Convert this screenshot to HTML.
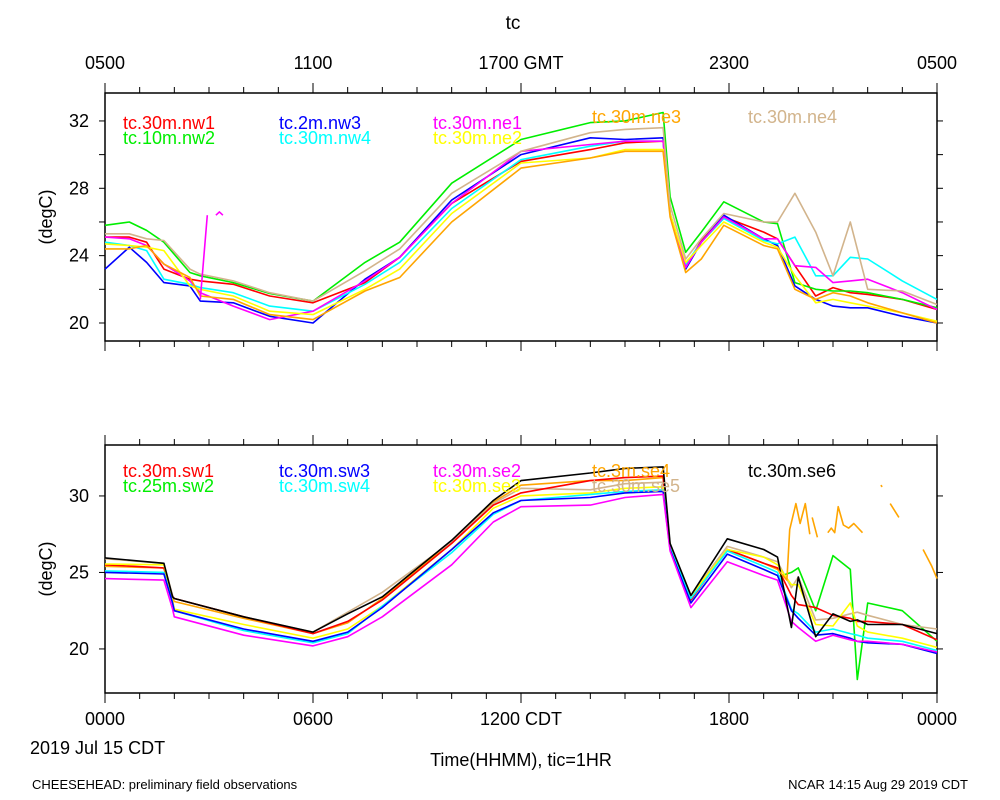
<!DOCTYPE html>
<html><head><meta charset="utf-8"><style>
body{margin:0;background:#fff;}
svg{display:block;font-family:"Liberation Sans",sans-serif;}
</style></head><body>
<svg id="chart" width="1000" height="800" viewBox="0 0 1000 800" xmlns="http://www.w3.org/2000/svg">
<text x="513" y="29" font-size="19" text-anchor="middle">tc</text>
<text x="105" y="69" font-size="18" text-anchor="middle">0500</text>
<text x="313" y="69" font-size="18" text-anchor="middle">1100</text>
<text x="521" y="69" font-size="18" text-anchor="middle">1700 GMT</text>
<text x="729" y="69" font-size="18" text-anchor="middle">2300</text>
<text x="937" y="69" font-size="18" text-anchor="middle">0500</text>
<text x="105" y="725" font-size="18" text-anchor="middle">0000</text>
<text x="313" y="725" font-size="18" text-anchor="middle">0600</text>
<text x="521" y="725" font-size="18" text-anchor="middle">1200 CDT</text>
<text x="729" y="725" font-size="18" text-anchor="middle">1800</text>
<text x="937" y="725" font-size="18" text-anchor="middle">0000</text>
<text x="30" y="754" font-size="18">2019 Jul 15 CDT</text>
<text x="521" y="766" font-size="18" text-anchor="middle">Time(HHMM), tic=1HR</text>
<text x="32" y="789" font-size="13">CHEESEHEAD: preliminary field observations</text>
<text x="968" y="789" font-size="13" text-anchor="end">NCAR 14:15 Aug 29 2019 CDT</text>
<text transform="translate(52,217) rotate(-90)" font-size="18" text-anchor="middle">(degC)</text>
<text transform="translate(52,569) rotate(-90)" font-size="18" text-anchor="middle">(degC)</text>
</svg>
<script>
const NS='http://www.w3.org/2000/svg';
const svg=document.getElementById('chart');
// ---------- top panel data ----------
const topTimes=[0,0.7,1.2,1.7,2.45,2.75,3.7,4.75,6,7.5,8.5,10,12,14,15,16.1,16.3,16.75,17.2,17.85,19,19.4,19.9,20.5,21,21.5,22,23,24];
const nw1=[25.1,25.1,24.8,23.2,22.6,22.5,22.3,21.6,21.2,22.4,23.9,27.1,29.6,30.3,30.7,30.8,26.5,23.3,24.9,26.3,25.4,25.0,23.4,21.6,22.1,21.8,21.7,21.4,20.8];
const nw2=[25.8,26.0,25.5,24.8,23.0,22.8,22.4,21.75,21.3,23.6,24.8,28.3,30.9,31.9,32.0,32.5,27.5,24.2,25.4,27.2,26.0,25.9,22.4,22.0,21.9,21.9,21.8,21.4,20.9];
const nw3=[23.2,24.5,23.6,22.4,22.2,21.3,21.2,20.4,20.0,22.6,23.9,27.3,30.0,31.0,30.9,31.0,26.5,23.2,24.8,26.4,25.0,24.6,22.2,21.4,21.0,20.9,20.9,20.4,20.0];
const nw4=[24.8,24.6,24.3,22.6,22.3,22.1,21.8,21.0,20.7,22.3,23.6,26.8,29.7,30.5,30.8,30.8,26.5,23.5,24.8,26.2,24.9,24.7,25.1,22.8,22.8,23.9,23.8,22.5,21.4];
const ne1=[25.1,25.0,24.6,23.5,22.5,21.8,21.0,20.2,20.7,22.5,23.9,27.1,30.2,30.6,30.8,30.8,26.5,23.3,24.8,26.3,25.0,25.0,23.4,23.3,22.4,22.5,22.6,21.8,20.8];
const ne2=[24.7,24.6,24.5,24.3,22.2,22.0,21.6,20.7,20.5,22.0,23.2,26.5,29.5,29.8,30.3,30.3,26.5,23.6,24.6,26.0,24.8,24.5,22.8,21.2,21.4,21.2,21.0,20.6,20.1];
const ne3=[24.4,24.4,24.6,23.5,22.7,21.6,21.4,20.5,20.2,21.9,22.7,26.0,29.2,29.8,30.2,30.2,26.3,23.0,23.8,25.8,24.6,24.4,22.0,21.4,21.8,21.6,21.2,20.6,20.0];
const ne4=[25.3,25.3,25.0,24.9,23.2,22.9,22.5,21.8,21.3,23.1,24.4,27.7,30.2,31.3,31.5,31.6,27.0,23.8,25.0,26.5,26.0,26.0,27.7,25.4,22.8,26.0,22.0,21.9,21.1];
const ne1SpikeTimes=[2.75,2.95,null,3.2,3.3,3.4];
const ne1SpikeVals=[21.4,26.4,null,26.4,26.6,26.4];
const topYTicks=[20,22,24,26,28,30,32];
const topYLabels=[20,24,28,32];
// ---------- bottom panel data ----------
const botTimes=[0,1.7,1.95,2,4,6,7,8,10,11.2,12,14,15,16.1,16.3,16.9,17.95,19,19.4,19.8,20,20.5,21,21.5,21.7,22,23,24];
const sw1=[25.5,25.3,23.4,23.3,22.1,21.0,21.8,23.2,26.9,29.4,30.2,31.0,31.2,31.3,26.7,23.2,26.5,25.6,25.3,23.5,22.9,22.7,22.2,22.0,21.8,21.8,21.6,20.6];
const sw2=[null,null,null,null,null,null,null,null,null,null,null,null,null,null,null,null,null,null,24.7,25.0,25.3,22.5,26.1,25.2,18.0,23.0,22.5,20.5];
const sw3=[25.0,24.9,23.0,22.5,21.3,20.5,21.1,22.7,26.5,28.9,29.7,29.9,30.2,30.3,26.5,23.0,26.2,25.2,24.8,22.5,22.0,20.9,21.0,20.7,20.5,20.4,20.3,19.7];
const sw4=[25.1,25.0,23.0,22.5,21.2,20.4,21.0,22.8,26.3,28.8,29.7,30.1,30.3,30.4,26.6,23.3,26.4,25.4,25.0,22.6,22.3,21.1,21.3,21.0,20.9,20.7,20.5,19.9];
const se2=[24.6,24.5,22.6,22.1,20.9,20.2,20.8,22.1,25.5,28.3,29.3,29.4,29.9,30.1,26.4,22.7,25.7,24.8,24.5,21.8,21.4,20.5,20.9,20.6,20.5,20.5,20.3,19.8];
const se3=[25.55,25.5,23.2,22.6,21.6,20.7,21.3,22.8,26.5,29.2,30.0,30.2,30.5,30.6,26.8,23.5,26.5,26.0,25.5,24.2,24.2,21.6,21.5,23.0,21.5,21.1,20.7,20.1];
const se4=[25.4,25.3,23.3,23.1,22.0,21.0,21.7,23.3,27.0,29.6,30.7,31.0,31.0,31.2,26.6,23.3,26.5,25.6,25.2,null,null,null,null,null,null,null,null,null];
const se5=[25.9,25.6,23.5,23.3,22.1,21.1,22.4,23.7,27.0,29.5,30.5,30.4,30.8,30.9,26.8,23.5,26.7,26.0,25.7,24.0,24.7,21.9,22.0,22.3,22.4,22.2,21.6,21.3];
const se6=[25.95,25.6,23.4,23.3,22.1,21.1,22.3,23.4,27.1,29.7,31.0,31.5,31.8,31.9,26.9,23.5,27.2,26.5,26.0,21.4,24.7,20.8,22.3,21.8,21.9,21.6,21.6,21.0];
const se4FragTimes=[19.4,19.67,19.75,19.93,20.05,20.2,20.33,null,20.4,20.55,null,20.85,20.95,21.05,21.15,21.3,21.45,21.6,21.85,null,22.38,22.42,null,22.65,22.9,null,23.6,23.85,24.0];
const se4FragVals=[25.2,24.5,27.8,29.5,28.2,29.5,27.5,null,28.6,27.3,null,27.6,27.9,27.6,29.3,28.1,27.9,28.2,27.6,null,30.7,30.6,null,29.5,28.6,null,26.5,25.4,24.6];
const botYTicks=[20,25,30];
const botYLabels=[20,25,30];

const X0=105,X1=937;
function xs(h){return X0+(X1-X0)*h/24;}
const topPanel={y0:93,y1:341,vmin:18.93,vmax:33.66};
const botPanel={y0:445,y1:693,vmin:17.12,vmax:33.33};
function ys(p,v){return p.y1-(v-p.vmin)/(p.vmax-p.vmin)*(p.y1-p.y0);}

function el(tag,attrs){const e=document.createElementNS(NS,tag);for(const k in attrs)e.setAttribute(k,attrs[k]);svg.appendChild(e);return e;}

function pathD(p,times,vals){
  let d='',pen=false;
  for(let i=0;i<times.length;i++){
    if(times[i]===null||vals[i]===null){pen=false;continue;}
    d+=(pen?'L':'M')+xs(times[i]).toFixed(1)+' '+ys(p,vals[i]).toFixed(1);
    pen=true;
  }
  return d;
}

function drawFrame(p,yTicks,yLabels,prefix){
  const g=el('g',{});
  
  
  const r=document.createElementNS(NS,'rect');
  r.setAttribute('x',X0);r.setAttribute('y',p.y0);r.setAttribute('width',X1-X0);r.setAttribute('height',p.y1-p.y0);
  r.setAttribute('fill','none');r.setAttribute('stroke','#000');r.setAttribute('stroke-width','1.5');
  
  
  g.appendChild(r);
  for(let h=0;h<=24;h++){
    const L=(h%6===0)?10:6;
    for(const [y,dir] of [[p.y0,-1],[p.y1,1]]){
      const t=document.createElementNS(NS,'line');
      t.setAttribute('x1',xs(h));t.setAttribute('x2',xs(h));t.setAttribute('y1',y);t.setAttribute('y2',y+dir*L);
      t.setAttribute('stroke','#000');t.setAttribute('stroke-width','1');
      
      
      g.appendChild(t);
    }
  }
  yTicks.forEach(v=>{
    const y=ys(p,v);
    for(const [x,dir] of [[X0,-1],[X1,1]]){
      const t=document.createElementNS(NS,'line');
      t.setAttribute('x1',x);t.setAttribute('x2',x+dir*6);t.setAttribute('y1',y);t.setAttribute('y2',y);
      t.setAttribute('stroke','#000');t.setAttribute('stroke-width','1');
      
      
      g.appendChild(t);
    }
  });
  yLabels.forEach(v=>{
    const t=document.createElementNS(NS,'text');
    t.setAttribute('x',89);t.setAttribute('y',ys(p,v)+6);t.setAttribute('font-size','18');t.setAttribute('text-anchor','end');
    t.textContent=v;
    
    
    g.appendChild(t);
  });
}

function drawSeries(p,times,vals,color,name){
  const e=el('path',{d:pathD(p,times,vals),fill:'none',stroke:color,'stroke-width':'1.6','stroke-linejoin':'round'});
  
  
}
function legend(x,y,text,color,name){
  const t=el('text',{x:x,y:y,'font-size':'18',fill:color});
  t.textContent=text;
  
  
}

drawFrame(topPanel,topYTicks,topYLabels,'top');
drawFrame(botPanel,botYTicks,botYLabels,'bottom');

const topSeries=[[nw1,'#ff0000','tc.30m.nw1'],[nw2,'#00ee00','tc.10m.nw2'],[nw3,'#0000ff','tc.2m.nw3'],[nw4,'#00ffff','tc.30m.nw4'],[ne1,'#ff00ff','tc.30m.ne1'],[ne2,'#ffff00','tc.30m.ne2'],[ne3,'#ffa500','tc.30m.ne3'],[ne4,'#d2b48c','tc.30m.ne4']];
topSeries.forEach(s=>drawSeries(topPanel,topTimes,s[0],s[1],'line-'+s[2].replace(/\./g,'-')));
drawSeries(topPanel,ne1SpikeTimes,ne1SpikeVals,'#ff00ff','line-tc-30m-ne1-spike');

const botSeries=[[sw2,'#00ee00','tc.25m.sw2'],[se4,'#ffa500','tc.3m.se4'],[se5,'#d2b48c','tc.30m.se5'],[sw1,'#ff0000','tc.30m.sw1'],[se3,'#ffff00','tc.30m.se3'],[sw4,'#00ffff','tc.30m.sw4'],[sw3,'#0000ff','tc.30m.sw3'],[se2,'#ff00ff','tc.30m.se2'],[se6,'#000000','tc.30m.se6']];
botSeries.forEach(s=>drawSeries(botPanel,botTimes,s[0],s[1],'line-'+s[2].replace(/\./g,'-')));
drawSeries(botPanel,se4FragTimes,se4FragVals,'#ffa500','line-tc-3m-se4-fragments');

const cols=[123,279,433,592,748];
legend(cols[0],129,'tc.30m.nw1','#ff0000','legend-nw1');
legend(cols[0],144,'tc.10m.nw2','#00ee00','legend-nw2');
legend(cols[1],129,'tc.2m.nw3','#0000ff','legend-nw3');
legend(cols[1],144,'tc.30m.nw4','#00ffff','legend-nw4');
legend(cols[2],129,'tc.30m.ne1','#ff00ff','legend-ne1');
legend(cols[2],144,'tc.30m.ne2','#ffff00','legend-ne2');
legend(cols[3],123,'tc.30m.ne3','#ffa500','legend-ne3');
legend(cols[4],123,'tc.30m.ne4','#d2b48c','legend-ne4');
legend(cols[0],477,'tc.30m.sw1','#ff0000','legend-sw1');
legend(cols[0],492,'tc.25m.sw2','#00ee00','legend-sw2');
legend(cols[1],477,'tc.30m.sw3','#0000ff','legend-sw3');
legend(cols[1],492,'tc.30m.sw4','#00ffff','legend-sw4');
legend(cols[2],477,'tc.30m.se2','#ff00ff','legend-se2');
legend(cols[2],492,'tc.30m.se3','#ffff00','legend-se3');
legend(cols[3],477,'tc.3m.se4','#ffa500','legend-se4');
legend(cols[3],492,'tc.30m.se5','#d2b48c','legend-se5');
legend(cols[4],477,'tc.30m.se6','#000000','legend-se6');
</script>
</body></html>
